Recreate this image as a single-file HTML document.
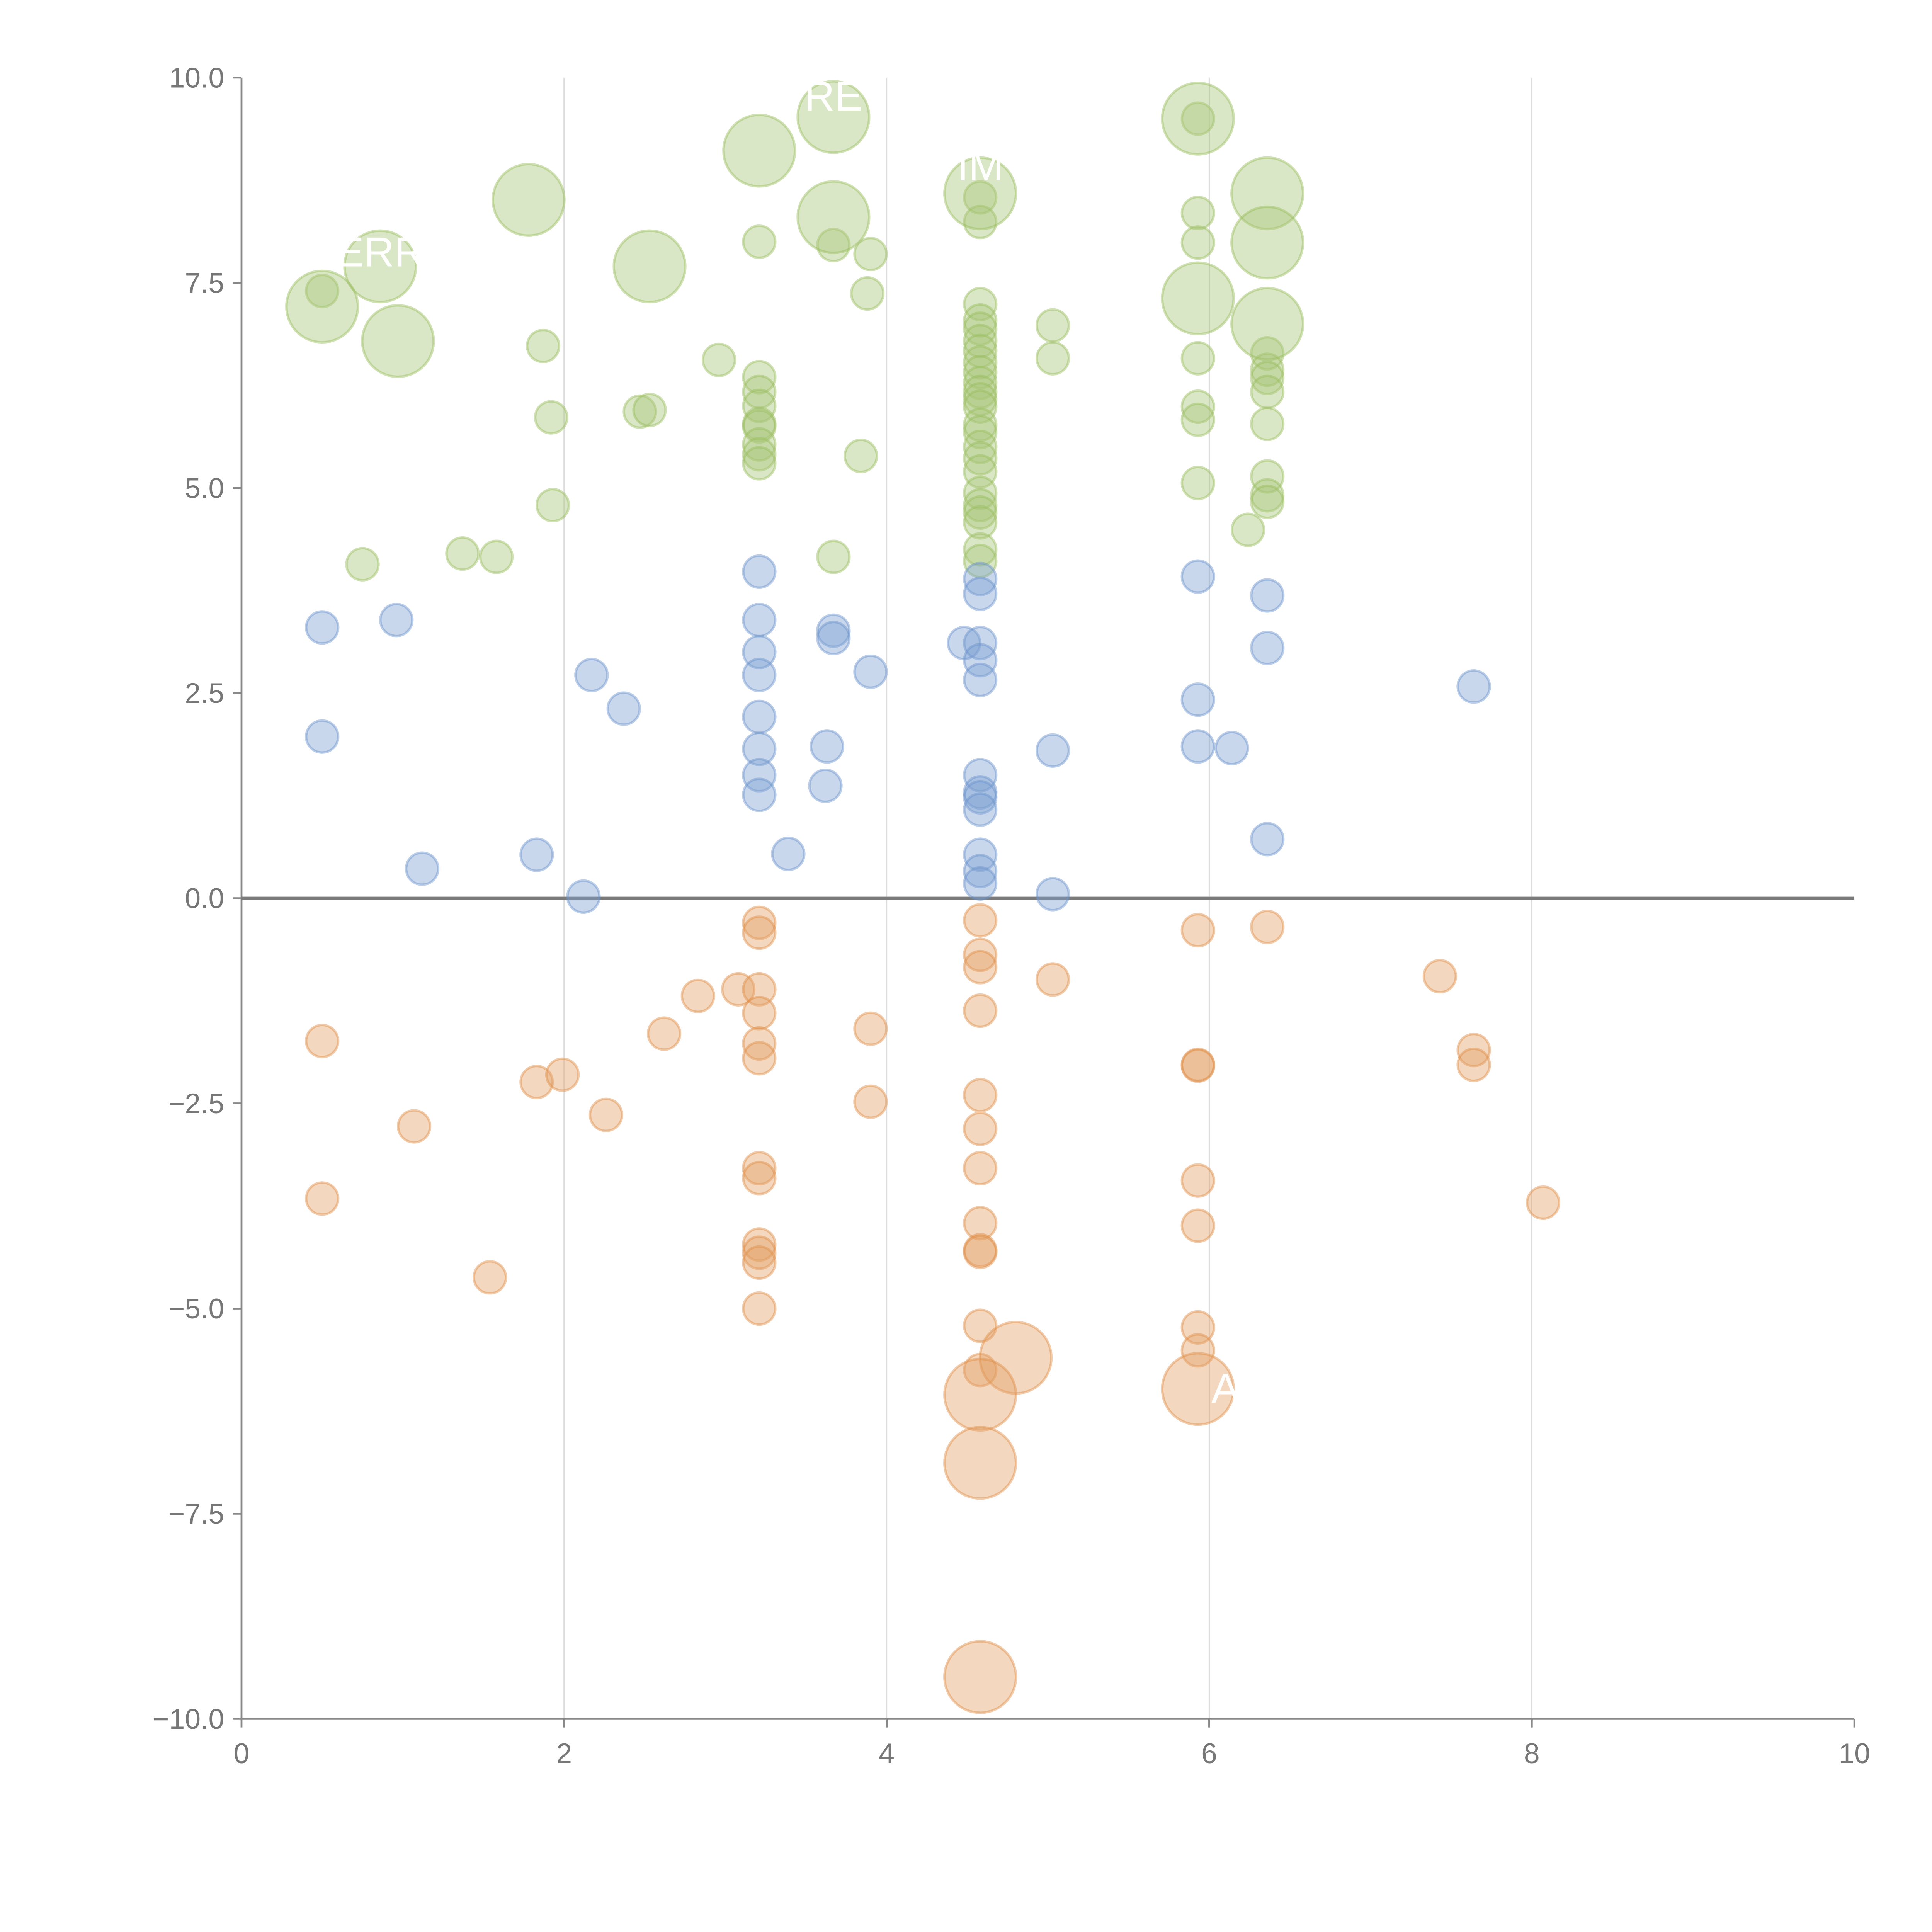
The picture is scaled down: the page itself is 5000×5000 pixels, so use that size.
<!DOCTYPE html>
<html><head><meta charset="utf-8"><style>html,body{margin:0;padding:0;background:#fff}svg{display:block}</style></head>
<body>
<svg id="chart" width="5000" height="5000" viewBox="0 0 1568 1568" xmlns="http://www.w3.org/2000/svg" font-family="'Liberation Sans', sans-serif">
<g id="grid"></g>
<g id="axes"></g>
<g id="marks"></g>
<g id="labels"></g>
</svg>
<script>
const xTicks=[0,2,4,6,8,10];
const yTicks=[10,7.5,5,2.5,0,-2.5,-5,-7.5,-10];
const yTickLabels=["10.0","7.5","5.0","2.5","0.0","\u22122.5","\u22125.0","\u22127.5","\u221210.0"];

const greenX=[0.5,0.75,1.37,1.58,1.87,1.92,1.93,2.47,2.53,2.96,3.21,3.21,3.21,3.21,3.21,3.21,3.21,3.21,3.21,3.67,3.67,3.84,3.88,3.9,4.58,4.58,
4.58,4.58,4.58,4.58,4.58,4.58,4.58,4.58,4.58,4.58,4.58,4.58,4.58,4.58,4.58,4.58,4.58,4.58,4.58,4.58,4.58,4.58,
5.03,5.03,5.93,5.93,5.93,5.93,5.93,5.93,5.93,6.36,6.36,6.36,6.36,6.36,6.36,6.36,6.36,6.24,
0.5,0.86,0.97,1.78,2.53,3.21,3.67,3.67,4.58,5.93,5.93,6.36,6.36,6.36];
const greenY=[7.4,4.07,4.2,4.16,6.73,5.86,4.79,5.93,5.95,6.56,8.0,6.35,6.17,6.0,5.78,5.75,5.53,5.41,5.3,7.96,4.16,5.39,7.37,7.85,8.54,8.24,
7.24,7.04,6.94,6.79,6.67,6.53,6.41,6.28,6.17,6.08,5.99,5.77,5.68,5.5,5.36,5.2,4.94,4.79,4.7,4.58,4.25,4.11,
6.98,6.58,9.5,8.35,7.99,6.58,5.99,5.83,5.06,6.64,6.44,6.34,6.17,5.78,5.14,4.91,4.83,4.49,
7.21,7.7,6.79,8.51,7.7,9.11,9.52,8.3,8.59,9.5,7.31,8.59,7.99,7.0];
const greenS=[1,1,1,1,1,1,1,1,1,1,1,1,1,1,1,1,1,1,1,1,1,1,1,1,1,1,
1,1,1,1,1,1,1,1,1,1,1,1,1,1,1,1,1,1,1,1,1,1,
1,1,1,1,1,1,1,1,1,1,1,1,1,1,1,1,1,1,
2,2,2,2,2,2,2,2,2,2,2,2,2,2];

const blueX=[0.5,0.5,0.96,1.12,1.83,2.12,2.17,2.37,3.21,3.21,3.21,3.21,3.21,3.21,3.21,3.21,3.39,3.62,3.63,3.67,3.67,3.9,4.48,
4.58,4.58,4.58,4.58,4.58,4.58,4.58,4.58,4.58,4.58,4.58,4.58,5.03,5.03,5.93,5.93,5.93,6.14,6.36,6.36,6.36,7.64];
const blueY=[3.3,1.97,3.39,0.36,0.53,0.02,2.72,2.31,3.98,3.39,3.0,2.72,2.21,1.82,1.5,1.26,0.54,1.37,1.85,3.26,3.17,2.76,3.11,
3.89,3.71,3.11,2.9,2.66,1.5,1.29,1.23,1.08,0.53,0.33,0.18,1.8,0.05,3.92,2.42,1.85,1.83,3.69,3.05,0.72,2.58];

const orangeX=[0.5,0.5,1.07,1.54,1.83,1.99,2.26,2.62,2.83,3.08,3.21,3.21,3.21,3.21,3.21,3.21,3.21,3.21,3.21,3.21,3.21,3.21,3.9,3.9,
4.58,4.58,4.58,4.58,4.58,4.58,4.58,4.58,4.58,4.58,4.58,4.58,5.03,5.93,5.93,5.93,5.93,5.93,5.93,5.93,6.36,7.43,7.64,7.64,8.07,
4.8,4.58,4.58,5.93,4.58];
const orangeY=[-1.74,-3.66,-2.78,-4.62,-2.24,-2.15,-2.64,-1.65,-1.19,-1.11,-0.3,-0.42,-1.11,-1.4,-1.77,-1.95,-3.29,-3.41,-4.22,-4.32,-4.44,-5.0,-1.59,-2.48,
-0.27,-0.69,-0.84,-1.37,-2.4,-2.81,-3.29,-3.96,-4.29,-4.31,-5.21,-5.75,-0.99,-0.39,-2.03,-2.04,-3.44,-3.99,-5.23,-5.51,-0.35,-0.95,-1.85,-2.03,-3.71,
-5.6,-6.05,-6.88,-5.98,-9.49];
const orangeS=[1,1,1,1,1,1,1,1,1,1,1,1,1,1,1,1,1,1,1,1,1,1,1,1,
1,1,1,1,1,1,1,1,1,1,1,1,1,1,1,1,1,1,1,1,1,1,1,1,1,
2,2,2,2,2];

const labelText=["RE","ERR","IM","A"];
const labelX=[3.67,0.86,4.58,6.1];
const labelY=[9.75,7.85,8.9,-6.0];

const NS="http://www.w3.org/2000/svg";
const X0=196,X1=1505,Y0=1395,Y1=63;
function sx(v){return X0+(v-0)/(10-0)*(X1-X0);}
function sy(v){return Y0-(v+10)/20*(Y0-Y1);}
function rad(s){return s===2?29:13;}
function mk(tag,attrs,parent){const e=document.createElementNS(NS,tag);for(const k in attrs)e.setAttribute(k,attrs[k]);parent.appendChild(e);return e;}

const grid=document.getElementById('grid'),axes=document.getElementById('axes'),marks=document.getElementById('marks'),labs=document.getElementById('labels');

xTicks.forEach(t=>{
  if(t>0&&t<10){const g=mk('line',{x1:sx(t),x2:sx(t),y1:Y1,y2:Y0,stroke:'#dddddd','stroke-width':1},grid);
  
  }
  const tk=mk('line',{x1:sx(t),x2:sx(t),y1:Y0,y2:Y0+7,stroke:'#888','stroke-width':1.5},axes);
  
  
  const tx=mk('text',{x:sx(t),y:Y0+36,'text-anchor':'middle','font-size':23,fill:'#777'},axes);
  tx.textContent=String(t);
  
  
});
yTicks.forEach((t,i)=>{
  const tk=mk('line',{x1:X0-7,x2:X0,y1:sy(t),y2:sy(t),stroke:'#888','stroke-width':1.5},axes);
  
  
  const tx=mk('text',{x:X0-14,y:sy(t)+8,'text-anchor':'end','font-size':23,fill:'#777'},axes);
  tx.textContent=yTickLabels[i];
  
  
});
const ya=mk('line',{x1:X0,x2:X0,y1:Y1,y2:Y0,stroke:'#888','stroke-width':1.5},axes);


const xa=mk('line',{x1:X0,x2:X1,y1:Y0,y2:Y0,stroke:'#888','stroke-width':1.5},axes);


const zl=mk('line',{x1:X0,x2:X1,y1:sy(0),y2:sy(0),stroke:'#7a7a7a','stroke-width':2.5},axes);



function series(xs,ys,ss,fill,stroke,name){
  xs.forEach((x,i)=>{
    const c=mk('circle',{cx:sx(x),cy:sy(ys[i]),r:rad(ss?ss[i]:1),fill:fill,'fill-opacity':0.42,stroke:stroke,'stroke-opacity':0.45,'stroke-width':2},marks);
    
    
  });
}
series(greenX,greenY,greenS,'#a6c676','#98bd5e','bubble-green');
series(blueX,blueY,null,'#7b9fd2','#6a92cc','bubble-blue');
series(orangeX,orangeY,orangeS,'#e2a065','#e08f48','bubble-orange');

labelText.forEach((t,i)=>{
  const tx=mk('text',{x:sx(labelX[i]),y:sy(labelY[i])+10,'text-anchor':'middle','font-size':34,fill:'#ffffff'},labs);
  tx.textContent=t;
  
  
});
</script>
</body></html>
